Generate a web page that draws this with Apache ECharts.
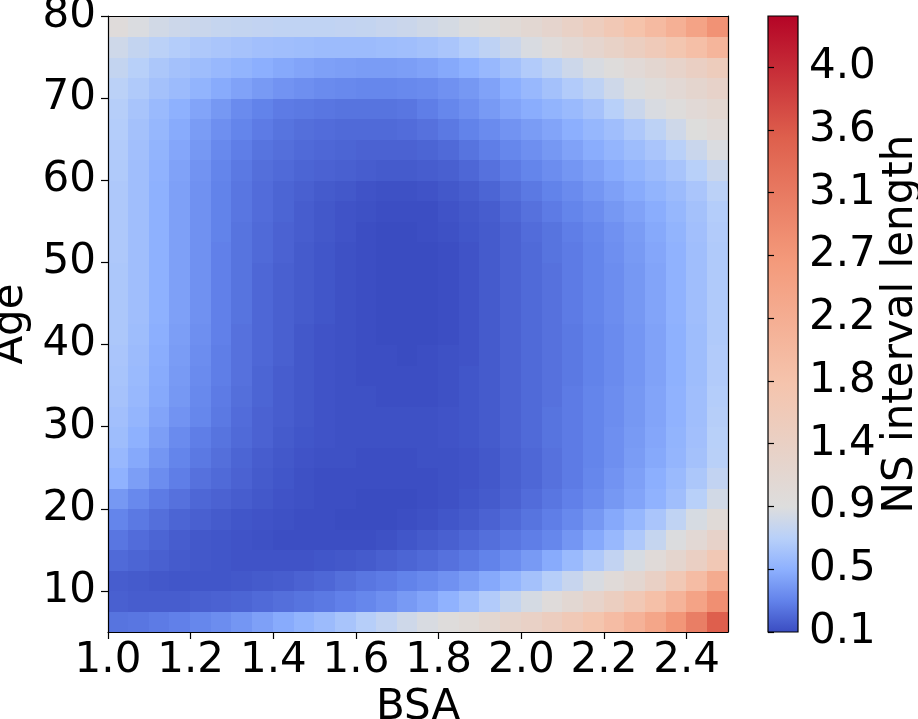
<!DOCTYPE html>
<html>
<head>
<meta charset="utf-8">
<script src="https://cdn.jsdelivr.net/npm/echarts@6/dist/echarts.min.js"></script>
<style>
html,body{margin:0;padding:0;background:#fff;}
#chart{width:918px;height:719px;}
</style>
</head>
<body>
<div id="chart"></div>
<script>
// cell centres (BSA step 0.05, Age step 2.5)
var bsaCenters = [1.025,1.075,1.125,1.175,1.225,1.275,1.325,1.375,1.425,1.475,
                  1.525,1.575,1.625,1.675,1.725,1.775,1.825,1.875,1.925,1.975,
                  2.025,2.075,2.125,2.175,2.225,2.275,2.325,2.375,2.425,2.475];
var ageCenters = [6.25,8.75,11.25,13.75,16.25,18.75,21.25,23.75,26.25,28.75,
                  31.25,33.75,36.25,38.75,41.25,43.75,46.25,48.75,51.25,53.75,
                  56.25,58.75,61.25,63.75,66.25,68.75,71.25,73.75,76.25,78.75];
// NS interval length, one row per age (bottom row first)
var nsLength = [
    [0.28,0.29,0.31,0.33,0.36,0.39,0.43,0.48,0.53,0.58,0.63,0.69,0.76,0.83,0.90,0.96,1.02,1.10,1.20,1.30,1.40,1.52,1.66,1.82,2.00,2.20,2.45,2.75,3.10,3.55],
    [0.20,0.19,0.19,0.19,0.20,0.21,0.22,0.24,0.26,0.28,0.30,0.33,0.36,0.40,0.45,0.50,0.57,0.65,0.74,0.84,0.94,1.05,1.18,1.33,1.50,1.70,1.92,2.18,2.50,2.85],
    [0.19,0.18,0.17,0.16,0.16,0.16,0.17,0.18,0.19,0.21,0.23,0.26,0.29,0.31,0.34,0.37,0.41,0.46,0.52,0.59,0.67,0.76,0.86,0.96,1.08,1.22,1.42,1.70,2.00,2.35],
    [0.24,0.22,0.20,0.18,0.17,0.16,0.15,0.15,0.15,0.15,0.16,0.17,0.18,0.20,0.22,0.24,0.27,0.30,0.34,0.39,0.45,0.53,0.62,0.72,0.83,0.95,1.08,1.25,1.45,1.70],
    [0.29,0.25,0.22,0.19,0.17,0.16,0.15,0.14,0.13,0.13,0.13,0.13,0.13,0.14,0.16,0.18,0.20,0.23,0.26,0.29,0.32,0.36,0.43,0.52,0.61,0.72,0.85,0.98,1.15,1.35],
    [0.35,0.30,0.26,0.22,0.20,0.18,0.16,0.15,0.14,0.13,0.13,0.12,0.12,0.12,0.13,0.14,0.16,0.18,0.21,0.24,0.28,0.32,0.37,0.44,0.52,0.60,0.70,0.82,0.95,1.10],
    [0.44,0.37,0.31,0.27,0.23,0.21,0.19,0.17,0.15,0.14,0.13,0.13,0.12,0.12,0.12,0.13,0.14,0.16,0.18,0.21,0.25,0.29,0.33,0.38,0.44,0.50,0.57,0.65,0.77,0.92],
    [0.57,0.47,0.39,0.32,0.27,0.24,0.21,0.18,0.16,0.14,0.13,0.13,0.13,0.13,0.13,0.13,0.14,0.15,0.17,0.20,0.23,0.27,0.31,0.36,0.42,0.48,0.55,0.62,0.71,0.83],
    [0.61,0.52,0.43,0.35,0.30,0.26,0.22,0.19,0.17,0.15,0.14,0.14,0.13,0.13,0.13,0.14,0.14,0.15,0.17,0.20,0.23,0.27,0.31,0.35,0.40,0.46,0.52,0.59,0.67,0.78],
    [0.64,0.56,0.47,0.38,0.32,0.28,0.24,0.21,0.18,0.16,0.15,0.14,0.14,0.14,0.14,0.14,0.15,0.16,0.18,0.21,0.24,0.28,0.31,0.35,0.40,0.45,0.51,0.58,0.66,0.77],
    [0.66,0.59,0.50,0.42,0.36,0.30,0.25,0.21,0.19,0.17,0.15,0.14,0.14,0.14,0.14,0.14,0.15,0.16,0.18,0.21,0.24,0.28,0.31,0.35,0.39,0.44,0.50,0.57,0.65,0.76],
    [0.68,0.61,0.52,0.44,0.37,0.31,0.26,0.22,0.19,0.17,0.15,0.14,0.14,0.13,0.13,0.13,0.14,0.16,0.18,0.21,0.24,0.27,0.31,0.35,0.39,0.44,0.50,0.57,0.65,0.75],
    [0.69,0.62,0.53,0.45,0.38,0.32,0.27,0.22,0.19,0.17,0.15,0.14,0.13,0.13,0.13,0.13,0.14,0.16,0.18,0.21,0.24,0.27,0.30,0.34,0.38,0.43,0.49,0.56,0.64,0.74],
    [0.70,0.63,0.54,0.46,0.39,0.32,0.27,0.23,0.20,0.17,0.15,0.14,0.13,0.13,0.12,0.13,0.14,0.15,0.18,0.21,0.24,0.27,0.30,0.34,0.38,0.43,0.49,0.56,0.64,0.74],
    [0.71,0.64,0.55,0.47,0.40,0.33,0.27,0.23,0.20,0.17,0.15,0.14,0.13,0.12,0.12,0.12,0.13,0.15,0.18,0.21,0.24,0.27,0.30,0.34,0.38,0.43,0.49,0.56,0.64,0.73],
    [0.71,0.65,0.56,0.48,0.41,0.33,0.28,0.23,0.20,0.18,0.16,0.14,0.13,0.12,0.12,0.12,0.13,0.15,0.18,0.21,0.24,0.27,0.31,0.35,0.39,0.44,0.50,0.57,0.65,0.73],
    [0.71,0.65,0.56,0.48,0.41,0.33,0.28,0.23,0.20,0.18,0.16,0.14,0.13,0.12,0.12,0.12,0.13,0.15,0.18,0.21,0.24,0.27,0.31,0.35,0.39,0.44,0.50,0.57,0.65,0.73],
    [0.71,0.65,0.56,0.48,0.41,0.33,0.28,0.23,0.20,0.18,0.16,0.14,0.13,0.12,0.12,0.12,0.13,0.15,0.18,0.21,0.24,0.27,0.31,0.35,0.39,0.44,0.50,0.57,0.65,0.73],
    [0.72,0.65,0.56,0.48,0.41,0.33,0.28,0.24,0.21,0.18,0.16,0.14,0.13,0.12,0.12,0.12,0.13,0.15,0.18,0.21,0.24,0.28,0.31,0.35,0.40,0.45,0.51,0.57,0.65,0.73],
    [0.72,0.65,0.56,0.48,0.41,0.34,0.28,0.24,0.21,0.19,0.17,0.15,0.13,0.12,0.12,0.13,0.14,0.16,0.18,0.21,0.25,0.28,0.32,0.36,0.41,0.46,0.52,0.58,0.66,0.74],
    [0.72,0.65,0.56,0.48,0.41,0.34,0.29,0.25,0.22,0.19,0.17,0.15,0.14,0.13,0.13,0.13,0.15,0.17,0.19,0.23,0.27,0.31,0.35,0.39,0.44,0.49,0.54,0.60,0.67,0.75],
    [0.72,0.65,0.56,0.48,0.41,0.34,0.29,0.25,0.22,0.20,0.18,0.17,0.15,0.14,0.14,0.15,0.17,0.19,0.22,0.26,0.30,0.34,0.38,0.43,0.48,0.53,0.58,0.63,0.70,0.79],
    [0.73,0.65,0.57,0.49,0.42,0.35,0.30,0.26,0.24,0.22,0.21,0.20,0.19,0.18,0.18,0.19,0.20,0.23,0.27,0.31,0.35,0.39,0.43,0.48,0.53,0.58,0.63,0.69,0.77,0.87],
    [0.74,0.66,0.58,0.51,0.44,0.37,0.32,0.28,0.26,0.24,0.23,0.22,0.21,0.21,0.21,0.22,0.24,0.28,0.32,0.36,0.40,0.44,0.49,0.54,0.59,0.64,0.70,0.78,0.87,0.97],
    [0.75,0.67,0.60,0.53,0.46,0.40,0.35,0.31,0.28,0.26,0.25,0.24,0.24,0.24,0.25,0.27,0.30,0.34,0.38,0.42,0.46,0.50,0.55,0.60,0.65,0.72,0.80,0.90,1.00,1.08],
    [0.76,0.69,0.62,0.56,0.50,0.44,0.38,0.34,0.31,0.30,0.29,0.28,0.28,0.28,0.29,0.32,0.36,0.40,0.45,0.50,0.54,0.58,0.62,0.68,0.77,0.87,0.96,1.03,1.12,1.20],
    [0.79,0.73,0.67,0.63,0.58,0.53,0.49,0.45,0.42,0.40,0.38,0.37,0.36,0.36,0.37,0.38,0.41,0.44,0.49,0.55,0.61,0.67,0.74,0.81,0.90,0.98,1.06,1.15,1.25,1.35],
    [0.84,0.77,0.71,0.67,0.64,0.61,0.58,0.55,0.52,0.50,0.48,0.47,0.46,0.46,0.47,0.49,0.52,0.56,0.61,0.67,0.74,0.81,0.89,0.96,1.03,1.12,1.22,1.33,1.45,1.57],
    [0.90,0.84,0.79,0.75,0.72,0.70,0.68,0.66,0.65,0.64,0.63,0.63,0.63,0.64,0.65,0.67,0.70,0.75,0.81,0.88,0.96,1.05,1.15,1.26,1.38,1.50,1.63,1.78,1.95,2.15],
    [1.05,0.97,0.92,0.89,0.87,0.85,0.84,0.83,0.82,0.82,0.82,0.83,0.84,0.86,0.88,0.91,0.94,0.98,1.03,1.09,1.18,1.28,1.40,1.54,1.70,1.87,2.05,2.25,2.50,2.80]
];
var bsaTicks = [1.0,1.2,1.4,1.6,1.8,2.0,2.2,2.4];
var ageTicks = [10,20,30,40,50,60,70,80];
var cbTicks = [0.12,0.555,0.99,1.425,1.86,2.295,2.73,3.165,3.6,4.035];
var cbLabels = ['0.1','0.5','0.9','1.4','1.8','2.2','2.7','3.1','3.6','4.0'];
var vMin = 0.12, vCenter = 0.99, vMax = 4.39;

// coolwarm
var coolwarm = [[58,76,193],[98,130,234],[141,176,254],[184,208,249],[221,221,221],
                [245,196,173],[244,154,123],[222,96,77],[180,4,38]];

function norm(v){
    if(v < vCenter) return 0.5*(v-vMin)/(vCenter-vMin);
    return 0.5+0.5*(v-vCenter)/(vMax-vCenter);
}
function unnorm(t){
    if(t < 0.5) return vMin + 2*t*(vCenter-vMin);
    return vCenter + (2*t-1)*(vMax-vCenter);
}
function cmap(t){
    t = Math.max(0, Math.min(1, t));
    var n = coolwarm.length-1;
    var k = Math.min(Math.floor(t*n), n-1);
    var f = t*n-k, a = coolwarm[k], b = coolwarm[k+1];
    return 'rgb('+Math.round(a[0]+(b[0]-a[0])*f)+','+Math.round(a[1]+(b[1]-a[1])*f)+','+Math.round(a[2]+(b[2]-a[2])*f)+')';
}

var cells = [];
for(var j=0;j<ageCenters.length;j++){
    for(var i=0;i<bsaCenters.length;i++){
        cells.push([bsaCenters[i], ageCenters[j], nsLength[j][i]]);
    }
}
var cellW = bsaCenters[1]-bsaCenters[0];
var cellH = ageCenters[1]-ageCenters[0];

var font = 'DejaVu Sans';
var txt = {color:'#000', fontFamily:font, fontSize:42};

var chart = echarts.init(document.getElementById('chart'));
chart.setOption({
    animation:false,
    backgroundColor:'#fff',
    grid:[
        {left:108, top:16, width:620, height:616, outerBoundsMode:'none', containLabel:false},
        {left:768, top:16, width:30, height:616, outerBoundsMode:'none', containLabel:false}
    ],
    xAxis:[
        {
            gridIndex:0, type:'value', min:1.0, max:2.5, z:10,
            name:'BSA', nameLocation:'middle', nameGap:52, nameTextStyle:txt,
            axisLine:{show:true, lineStyle:{color:'#000', width:1.2}},
            axisTick:{show:true, customValues:bsaTicks, length:7, lineStyle:{color:'#000', width:1.2}},
            axisLabel:Object.assign({customValues:bsaTicks, margin:8, formatter:function(v){return v.toFixed(1);}}, txt),
            splitLine:{show:false}
        },
        {
            gridIndex:0, type:'value', min:1.0, max:2.5, position:'top', z:10,
            axisLine:{show:true, lineStyle:{color:'#000', width:1.2}},
            axisTick:{show:false}, axisLabel:{show:false}, splitLine:{show:false}
        },
        {gridIndex:1, type:'value', min:0, max:1, show:false}
    ],
    yAxis:[
        {
            gridIndex:0, type:'value', min:5, max:80, z:10,
            name:'Age', nameLocation:'middle', nameGap:64, nameRotate:90, nameTextStyle:txt,
            axisLine:{show:true, lineStyle:{color:'#000', width:1.2}},
            axisTick:{show:true, customValues:ageTicks, length:7, lineStyle:{color:'#000', width:1.2}},
            axisLabel:Object.assign({customValues:ageTicks, margin:12}, txt),
            splitLine:{show:false}
        },
        {
            gridIndex:0, type:'value', min:5, max:80, position:'right', z:10,
            axisLine:{show:true, lineStyle:{color:'#000', width:1.2}},
            axisTick:{show:false}, axisLabel:{show:false}, splitLine:{show:false}
        },
        {
            gridIndex:1, type:'value', min:vMin, max:vMax, position:'right', z:10,
            name:'NS interval length', nameLocation:'middle', nameGap:75, nameRotate:90, nameTextStyle:txt,
            axisLine:{show:false},
            axisTick:{show:true, customValues:cbTicks, length:6, lineStyle:{color:'#000', width:1.2}},
            axisLabel:Object.assign({customValues:cbTicks, margin:11, formatter:function(v){
                var k = cbTicks.indexOf(v); return k >= 0 ? cbLabels[k] : '';
            }}, txt),
            splitLine:{show:false}
        }
    ],
    series:[
        {
            type:'custom', xAxisIndex:0, yAxisIndex:0, clip:true,
            data:cells,
            renderItem:function(params, api){
                var b = api.value(0), a = api.value(1), v = api.value(2);
                var p0 = api.coord([b-cellW/2, a+cellH/2]);
                var p1 = api.coord([b+cellW/2, a-cellH/2]);
                var x0 = Math.floor(p0[0]), y0 = Math.floor(p0[1]);
                return {
                    type:'rect',
                    shape:{x:x0, y:y0, width:Math.ceil(p1[0])-x0, height:Math.ceil(p1[1])-y0},
                    style:{fill:cmap(norm(v))}
                };
            }
        },
        {
            type:'custom', xAxisIndex:2, yAxisIndex:2,
            data:[[0, vMin, vMax]],
            renderItem:function(params, api){
                var p0 = api.coord([0, api.value(2)]);
                var p1 = api.coord([1, api.value(1)]);
                var stops = [];
                for(var k=0;k<coolwarm.length;k++){
                    var t = k/(coolwarm.length-1);
                    stops.push({offset:(unnorm(t)-vMin)/(vMax-vMin), color:cmap(t)});
                }
                return {
                    type:'rect',
                    shape:{x:p0[0], y:p0[1], width:p1[0]-p0[0], height:p1[1]-p0[1]},
                    style:{fill:new echarts.graphic.LinearGradient(0,1,0,0,stops), stroke:'#000', lineWidth:1.2}
                };
            }
        }
    ]
});
</script>
</body>
</html>
